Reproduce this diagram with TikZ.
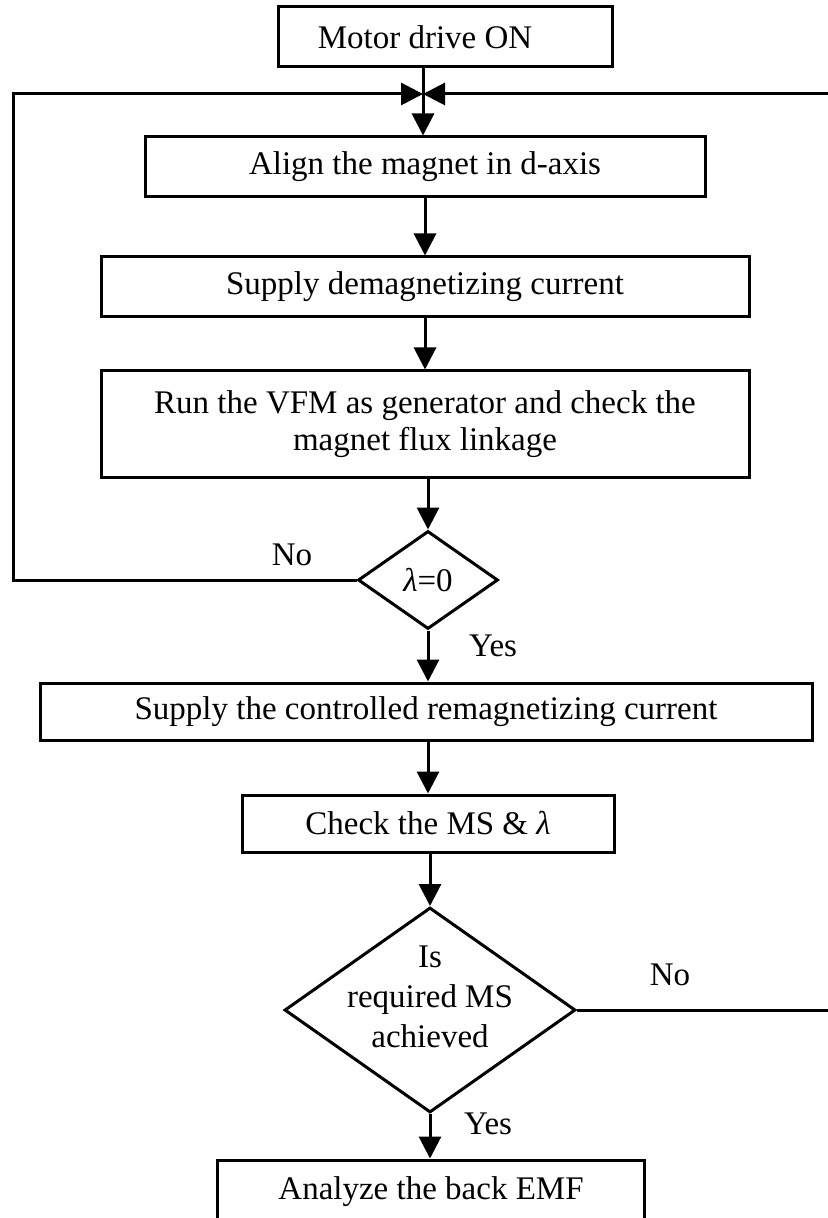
\documentclass[tikz,border=0pt]{standalone}
\usepackage{fontspec}
\setmainfont{Liberation Serif}
\usetikzlibrary{shapes.geometric,arrows.meta}

\tikzset{
  stepbox/.style={draw, line width=1.5pt, inner sep=0pt, align=center},
  choice/.style={draw, diamond, line width=1.5pt, inner sep=0pt, align=center},
  flow/.style={line width=1.5pt, -{Triangle[length=11pt,width=11pt]}},
  link/.style={line width=1.5pt},
}

\begin{document}
\begin{tikzpicture}[x=0.5pt,y=-0.5pt,font=\fontsize{16.5}{19}\selectfont]
    \useasboundingbox (0,0) rectangle (828,1218);
    % steps
    \node[stepbox, minimum width=167pt, minimum height=30pt] (on) at (445,37) {Motor drive ON\hspace*{20pt}};
    \coordinate (jn) at (423,94);
    \node[stepbox, minimum width=280pt, minimum height=30pt] (align) at (425,167) {Align the magnet in d-axis};
    \node[stepbox, minimum width=324pt, minimum height=30pt] (demag) at (425,287) {Supply demagnetizing current};
    \node[stepbox, minimum width=324pt, minimum height=53.5pt, font=\fontsize{16.5}{18.5}\selectfont] (run) at (425,424.5) {Run the VFM as generator and check the\\magnet flux linkage};
    \node[choice, minimum width=70pt, minimum height=49pt] (lam) at (428,580) {{\itshape λ}=0};
    \node[stepbox, minimum width=386pt, minimum height=28.5pt] (remag) at (426,711.5) {Supply the controlled remagnetizing current};
    \node[stepbox, minimum width=186pt, minimum height=28.5pt] (check) at (428,823.5) {Check the MS \& {\itshape λ}};
    \node[choice, aspect=1.42, inner sep=-9pt, text depth=13.5pt, minimum width=145.5pt, minimum height=102.5pt, font=\fontsize{16.5}{20}\selectfont] (ms) at (430,1010) {Is\\required MS\\achieved};
    \node[stepbox, minimum width=213.5pt, minimum height=32pt] (emf) at (431,1192) {Analyze the back EMF};
    % labels
    \node (no1) at (292,555) {No};
    \node (yes1) at (493,646) {Yes};
    \node (no2) at (670,975) {No};
    \node (yes2) at (488,1124) {Yes};
    % loops
    \coordinate (lc) at (13,94);
    \coordinate (rc) at (845,94);
    \draw[link] (on.south -| jn) -- (jn);
    \draw[flow] (jn) -- (jn |- align.north);
    \draw[flow] (align.south) -- (demag.north);
    \draw[flow] (demag.south) -- (run.north);
    \draw[flow] (run.south -| lam) -- (lam.north);
    \draw[flow] (lam.south) -- (lam.south |- remag.north);
    \draw[flow] (remag.south -| check) -- (check.north);
    \draw[flow] (check.south -| ms) -- (ms.north);
    \draw[flow] (ms.south) -- (ms.south |- emf.north);
    \draw[flow] (lam.west) -| (lc) -- (jn);
    \draw[flow] (ms.east) -| (rc) -- (jn);
\end{tikzpicture}
\end{document}
